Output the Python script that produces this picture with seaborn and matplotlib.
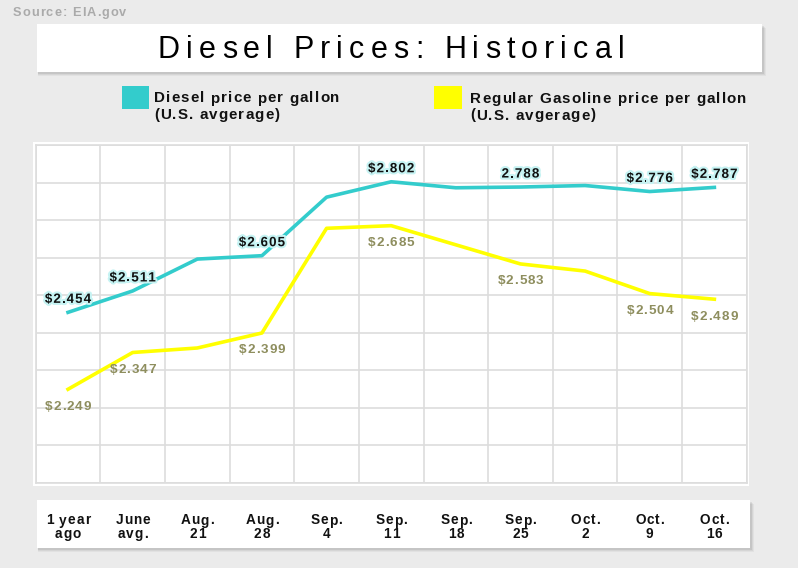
import numpy as np
import pandas as pd
import matplotlib
matplotlib.use("Agg")
import matplotlib.pyplot as plt
import seaborn as sns
from matplotlib import font_manager as fm
from matplotlib.ft2font import FT2Font
from matplotlib.patches import Rectangle
import matplotlib.patheffects as pe

# ---------------- data ----------------
categories = ["1 year\nago", "June\navg.", "Aug.\n21", "Aug.\n28", "Sep.\n4", "Sep.\n11",
              "Sep.\n18", "Sep.\n25", "Oct.\n2", "Oct.\n9", "Oct.\n16"]
diesel = [2.454, 2.511, 2.596, 2.605, 2.761, 2.802, 2.786, 2.788, 2.792, 2.776, 2.787]
gasoline = [2.249, 2.347, 2.359, 2.399, 2.678, 2.685, 2.634, 2.583, 2.564, 2.504, 2.489]
diesel_labels = ["$2.454", "$2.511", None, "$2.605", None, "$2.802", None, "2.788", None, "$2.776", "$2.787"]
gas_labels = ["$2.249", "$2.347", None, "$2.399", None, "$2.685", None, "$2.583", None, "$2.504", "$2.489"]
y_grid = [2.0, 2.1, 2.2, 2.3, 2.4, 2.5, 2.6, 2.7, 2.8, 2.9]
series_names = ["Diesel price per gallon\n(U.S. avgerage)", "Regular Gasoline price per gallon\n(U.S. avgerage)"]
title = "Diesel Prices: Historical"
source = "Source: EIA.gov"

# ---------------- style ----------------
W, H, DPI = 798, 568, 100
BG = "#ebebeb"
CYAN = "#33cccc"
YELLOW = "#ffff00"
GAS_TXT = "#8e8e5e"
GRID = "#dddddd"
FAM = "Liberation Sans"

fig = plt.figure(figsize=(W / DPI, H / DPI), dpi=DPI, facecolor=BG)


def fx(x):
    return x / W


def fy(y):
    return 1 - y / H


_font_cache = {}


def advances(s, size, weight, family):
    key = (size, weight, family)
    if key not in _font_cache:
        prop = fm.FontProperties(family=family, weight=weight, size=size)
        f = FT2Font(fm.findfont(prop))
        f.set_size(size, DPI)
        _font_cache[key] = f
    f = _font_cache[key]
    out = []
    for c in s:
        g = f.load_char(ord(c))
        out.append(g.linearHoriAdvance / 65536)
    return out


def spaced_text(x, y, s, size, spacing, weight="normal", color="black", ha="left",
                family=FAM, line_h=None, effects=None, zorder=5):
    """x, y in pixels from top-left; y is baseline of first line."""
    lines = s.split("\n")
    for li, line in enumerate(lines):
        adv = advances(line, size, weight, family)
        total = sum(adv) + spacing * (len(line) - 1)
        if ha == "center":
            x0 = x - total / 2
        elif ha == "right":
            x0 = x - total
        else:
            x0 = x
        yy = y + li * (line_h or 0)
        cx = x0
        for c, a in zip(line, adv):
            if c != " ":
                t = fig.text(fx(cx), fy(yy), c, fontsize=size, fontweight=weight,
                             family=family, color=color, ha="left", va="baseline",
                             zorder=zorder)
                if effects:
                    t.set_path_effects(effects)
            cx += a + spacing


def box(x0, y0, x1, y1, shadow=True):
    if shadow:
        for k, a in [(4, 0.04), (3, 0.05), (2, 0.07)]:
            fig.add_artist(Rectangle((fx(x0 + 1), fy(y1 + k)), (x1 - x0 + k - 1) / W, (y1 - y0) / H,
                                     transform=fig.transFigure, facecolor="black", alpha=a,
                                     edgecolor="none", zorder=-3))
    fig.add_artist(Rectangle((fx(x0), fy(y1)), (x1 - x0) / W, (y1 - y0) / H,
                             transform=fig.transFigure, facecolor="white",
                             edgecolor="none", zorder=-2))


# ---------------- frames ----------------
box(37, 24, 762, 72)
box(37, 500, 750, 548)
box(33, 142, 749, 486, shadow=False)

# ---------------- axes ----------------
ax_l, ax_r, ax_t, ax_b = 35.7, 746.7, 145.0, 482.7
ax = fig.add_axes([fx(ax_l), fy(ax_b), (ax_r - ax_l) / W, (ax_b - ax_t) / H])
ax.set_facecolor("white")

df = pd.DataFrame({
    "pos": list(range(len(categories))) * 2,
    "price": diesel + gasoline,
    "series": [series_names[0]] * len(categories) + [series_names[1]] * len(categories),
})
sns.lineplot(data=df, x="pos", y="price", hue="series",
             palette={series_names[0]: CYAN, series_names[1]: YELLOW},
             linewidth=2.6, legend=False, ax=ax, zorder=3)

ax.set_xlim(-0.5, len(categories) - 0.5)
ax.set_ylim(min(y_grid), max(y_grid))
ax.set_xticks(np.arange(-0.5, len(categories), 1.0))
ax.set_yticks(y_grid)
ax.grid(True, color=GRID, linewidth=1.2)
ax.set_axisbelow(True)
ax.tick_params(length=0, labelbottom=False, labelleft=False)
ax.set_xlabel("")
ax.set_ylabel("")
for sp in ax.spines.values():
    sp.set_color(GRID)
    sp.set_linewidth(1.2)

# ---------------- value labels ----------------
halo = [pe.withStroke(linewidth=3.0, foreground="#c6f3f3")]
for i, (v, lab) in enumerate(zip(diesel, diesel_labels)):
    if lab:
        xd, yd = ax.transData.transform((i, v))
        spaced_text(xd, H - yd - 9.5, lab, 9.7, 1.0, weight="bold", color="#111111",
                    ha="center", effects=halo)
for i, (v, lab) in enumerate(zip(gasoline, gas_labels)):
    if lab:
        xd, yd = ax.transData.transform((i, v))
        spaced_text(xd, H - yd + 20.5, lab, 9.7, 1.0, weight="bold", color=GAS_TXT,
                    ha="center")

# ---------------- category labels ----------------
for i, cat in enumerate(categories):
    xd, _ = ax.transData.transform((i, 2.5))
    spaced_text(xd, 524.5, cat, 9.8, 0.9, weight="bold", color="#111111",
                ha="center", line_h=13.5)

# ---------------- title, source, legend ----------------
spaced_text(391, 58.3, title, 22.0, 6.1, color="black", ha="center")
spaced_text(12.5, 15.7, source, 9.2, 1.1, weight="bold", color="#aaaaaa")

fig.add_artist(Rectangle((fx(122), fy(109)), 27 / W, 23 / H, transform=fig.transFigure,
                         facecolor=CYAN, edgecolor="none"))
spaced_text(154, 102.5, series_names[0], 10.9, 1.1, weight="bold", color="#111111", line_h=16.5)
fig.add_artist(Rectangle((fx(433.5), fy(109.3)), 28 / W, 23.5 / H, transform=fig.transFigure,
                         facecolor=YELLOW, edgecolor="none"))
spaced_text(470, 103.0, series_names[1], 10.9, 1.1, weight="bold", color="#111111", line_h=16.5)

fig.savefig("out.png", dpi=DPI, facecolor=BG)
